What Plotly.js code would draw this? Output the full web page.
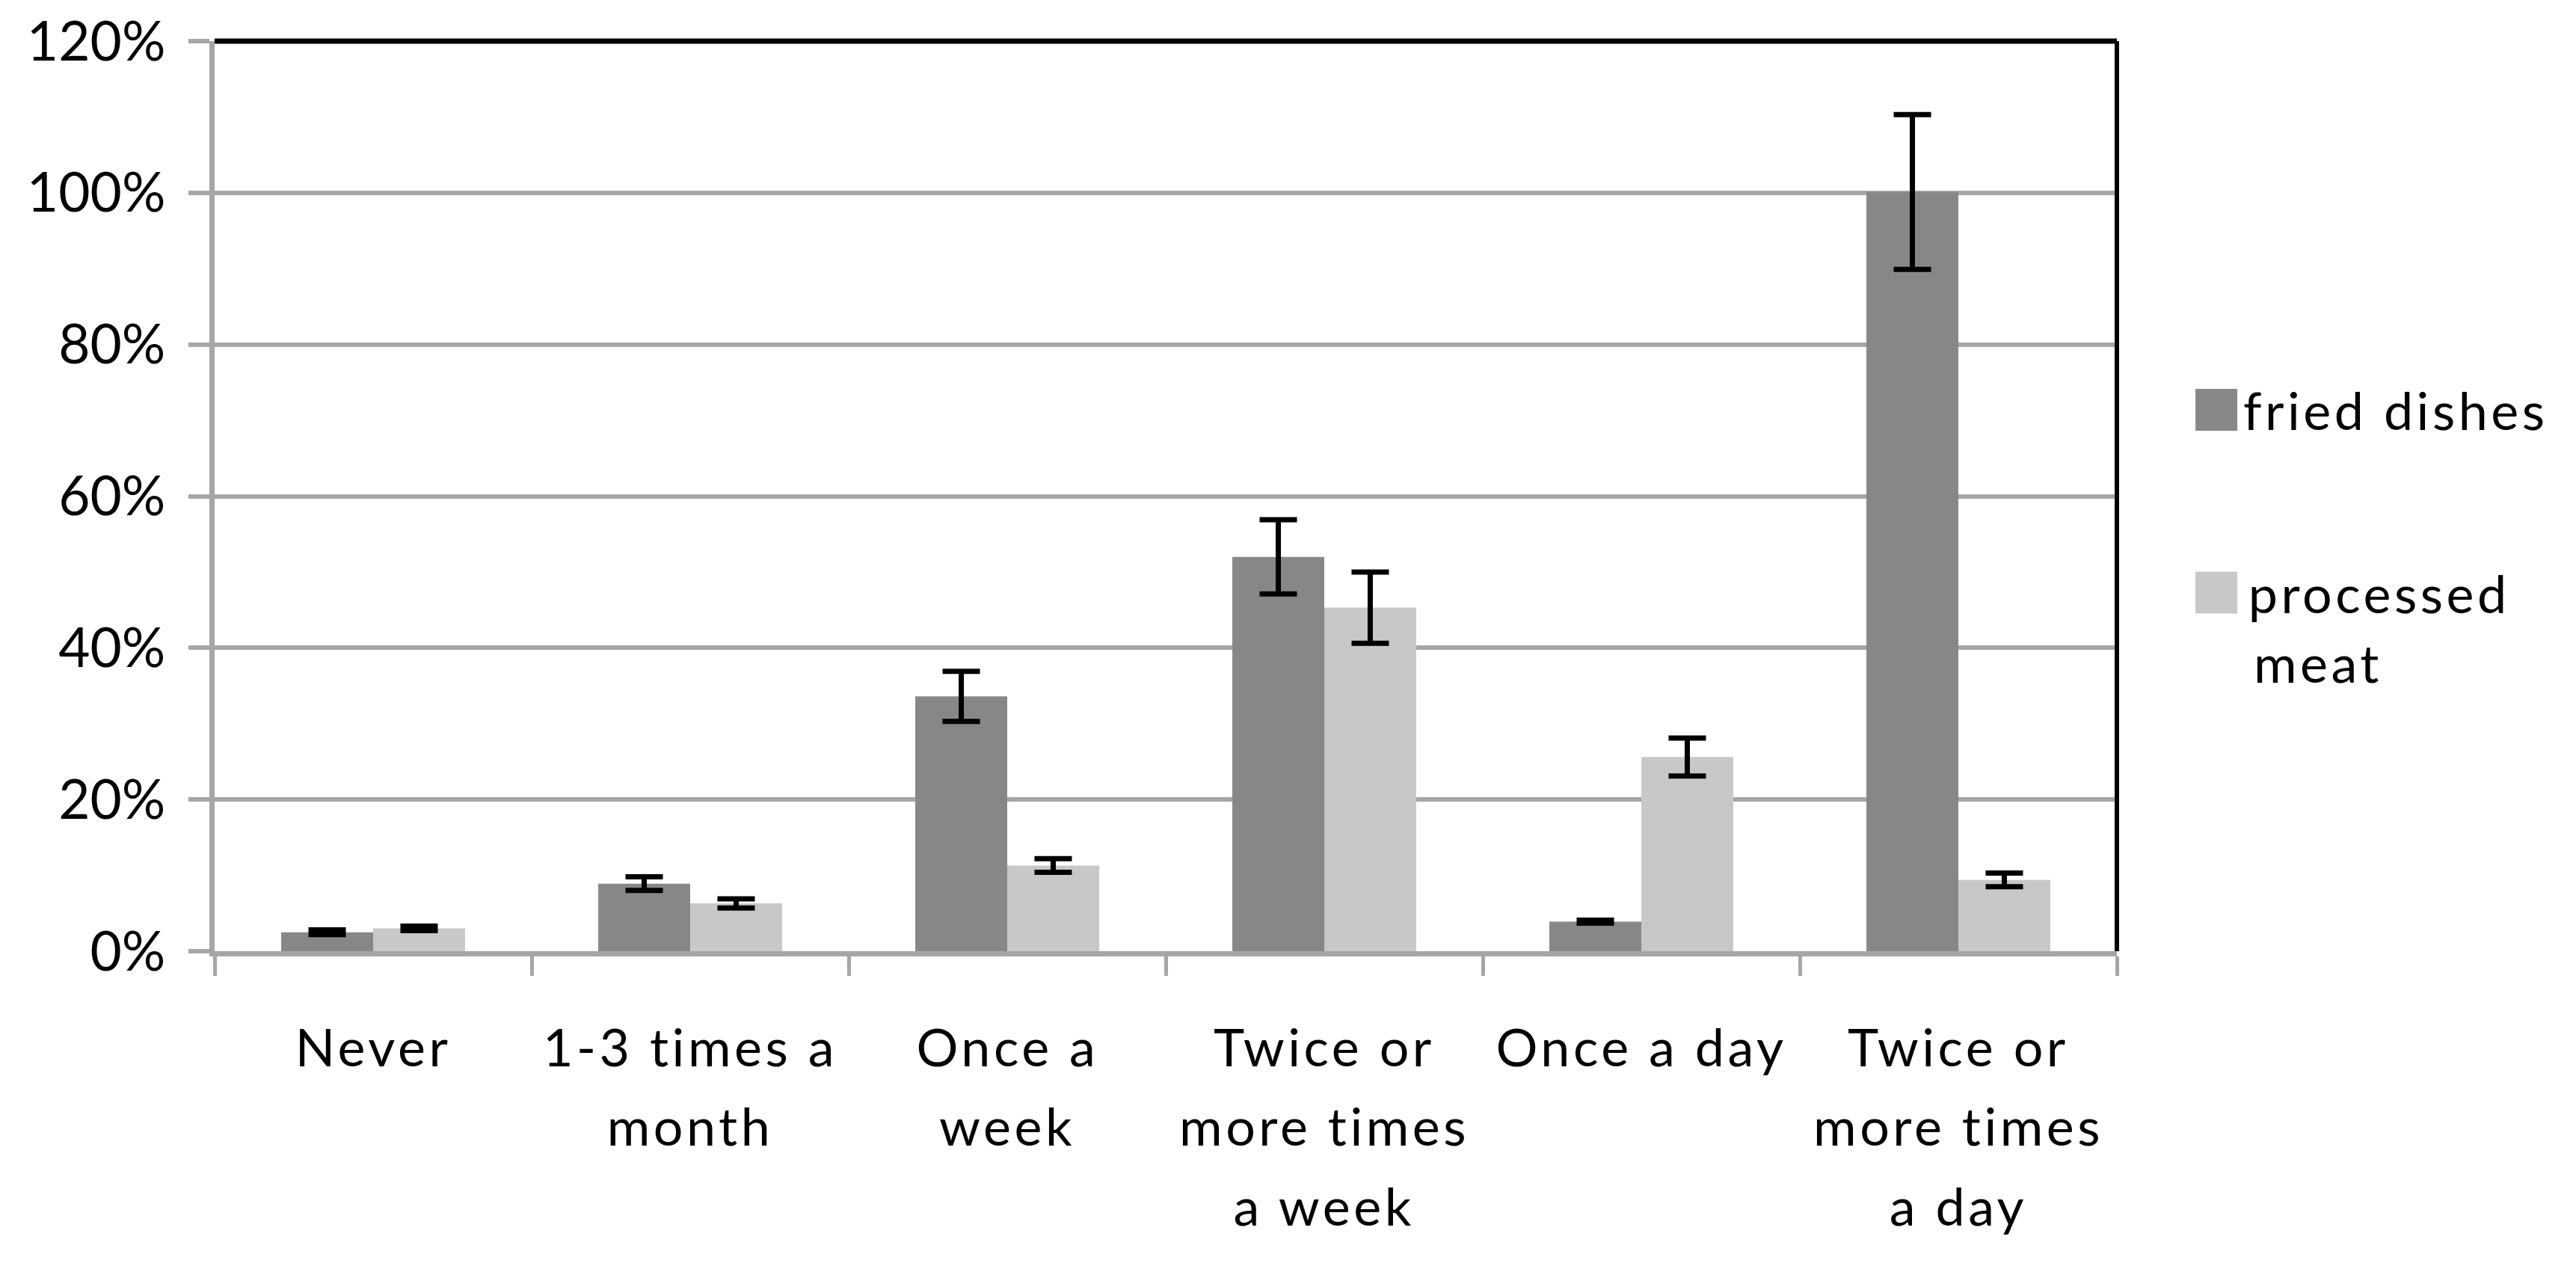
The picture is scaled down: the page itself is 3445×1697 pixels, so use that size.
<!DOCTYPE html>
<html>
<head>
<meta charset="utf-8">
<script src="https://cdn.plot.ly/plotly-3.0.1.min.js"></script>
<style>
  body { margin: 0; background: #fff; }
  .main-svg .annotation text { letter-spacing: 4.5px; }
</style>
</head>
<body>
<div id="chart" style="width:3445px;height:1697px;"></div>
<script>
// categories on the x axis (line breaks as in the original)
let categories = ['Never', '1-3 times a<br>month', 'Once a<br>week',
  'Twice or<br>more times<br>a week', 'Once a day', 'Twice or<br>more times<br>a day']

let series_names = ['fried dishes', 'processed<br>meat']
let series_colors = ['#878787', '#c8c8c8']

let fried_dishes = [0.025, 0.089, 0.336, 0.520, 0.039, 1.001]
let fried_err = [0.003, 0.009, 0.033, 0.049, 0.002, 0.102]

let processed_meat = [0.030, 0.063, 0.113, 0.453, 0.256, 0.094]
let processed_err = [0.003, 0.006, 0.009, 0.047, 0.025, 0.009]

let y_ticks = [0, 0.2, 0.4, 0.6, 0.8, 1.0, 1.2]

let font_family = 'Lato, "Open Sans", sans-serif'
let grey_line = '#a6a6a6'

let make_trace = function(name, vals, errs, color) {
  return {
    type: 'bar',
    name: name,
    x: categories,
    y: vals,
    marker: { color: color, line: { width: 0 } },
    error_y: { type: 'data', array: errs, visible: true, color: '#000', thickness: 7, width: 25 },
    showlegend: false
  }
}

let traces = [
  make_trace(series_names[0], fried_dishes, fried_err, series_colors[0]),
  make_trace(series_names[1], processed_meat, processed_err, series_colors[1])
]

// category labels, one annotation per line so the line spacing matches
let annotations = []
let line_offsets = [127, 233, 340]
categories.forEach(function(cat) {
  cat.split('<br>').forEach(function(line, i) {
    annotations.push({
      xref: 'x', yref: 'paper', x: cat, y: 0,
      yshift: -line_offsets[i], yanchor: 'middle', xanchor: 'center',
      text: line, showarrow: false,
      font: { family: font_family, size: 70, color: '#000' }
    })
  })
})

// hand made legend with big squares like the original
let shapes = []
let legend_top = [0.618, 0.417]
let legend_text_y = [[0.595], [0.3936, 0.317]]
series_names.forEach(function(name, k) {
  shapes.push({
    type: 'rect', xref: 'paper', yref: 'paper',
    x0: 1.0413, x1: 1.0633, y0: legend_top[k] - 0.046, y1: legend_top[k],
    fillcolor: series_colors[k], line: { width: 0 }
  })
  name.split('<br>').forEach(function(line, i) {
    annotations.push({
      xref: 'paper', yref: 'paper', x: 1.0762, y: legend_text_y[k][i],
      xshift: i > 0 ? -4 : 0,
      xanchor: 'left', yanchor: 'middle', text: line, showarrow: false,
      font: { family: font_family, size: 70, color: '#000' }
    })
  })
})

// black frame on top and right
shapes.push({ type: 'line', xref: 'paper', yref: 'paper', x0: 0, x1: 1, y0: 1, y1: 1, line: { color: '#000', width: 7 } })
shapes.push({ type: 'line', xref: 'paper', yref: 'paper', x0: 1, x1: 1, y0: 0, y1: 1, line: { color: '#000', width: 6 } })

let layout = {
  width: 3445,
  height: 1697,
  margin: { l: 287, r: 614, t: 55, b: 425, pad: 0 },
  paper_bgcolor: '#fff',
  plot_bgcolor: '#fff',
  barmode: 'group',
  bargap: 0.42,
  bargroupgap: 0,
  font: { family: font_family, size: 70, color: '#000' },
  xaxis: {
    type: 'category',
    showticklabels: false,
    showgrid: false,
    showline: true,
    linecolor: grey_line,
    linewidth: 7,
    ticks: 'outside',
    tickson: 'boundaries',
    ticklen: 26,
    tickwidth: 5,
    tickcolor: grey_line,
    zeroline: false
  },
  yaxis: {
    range: [0, 1.2],
    tickvals: y_ticks,
    tickformat: '.0%',
    showgrid: true,
    gridcolor: grey_line,
    gridwidth: 6,
    showline: true,
    linecolor: grey_line,
    linewidth: 7,
    ticks: 'outside',
    ticklen: 28,
    tickwidth: 6,
    tickcolor: grey_line,
    ticklabelstandoff: 16,
    zeroline: false,
    tickfont: { family: font_family, size: 73, color: '#000' }
  },
  shapes: shapes,
  annotations: annotations
}

Plotly.newPlot('chart', traces, layout, { staticPlot: true })
</script>
</body>
</html>
